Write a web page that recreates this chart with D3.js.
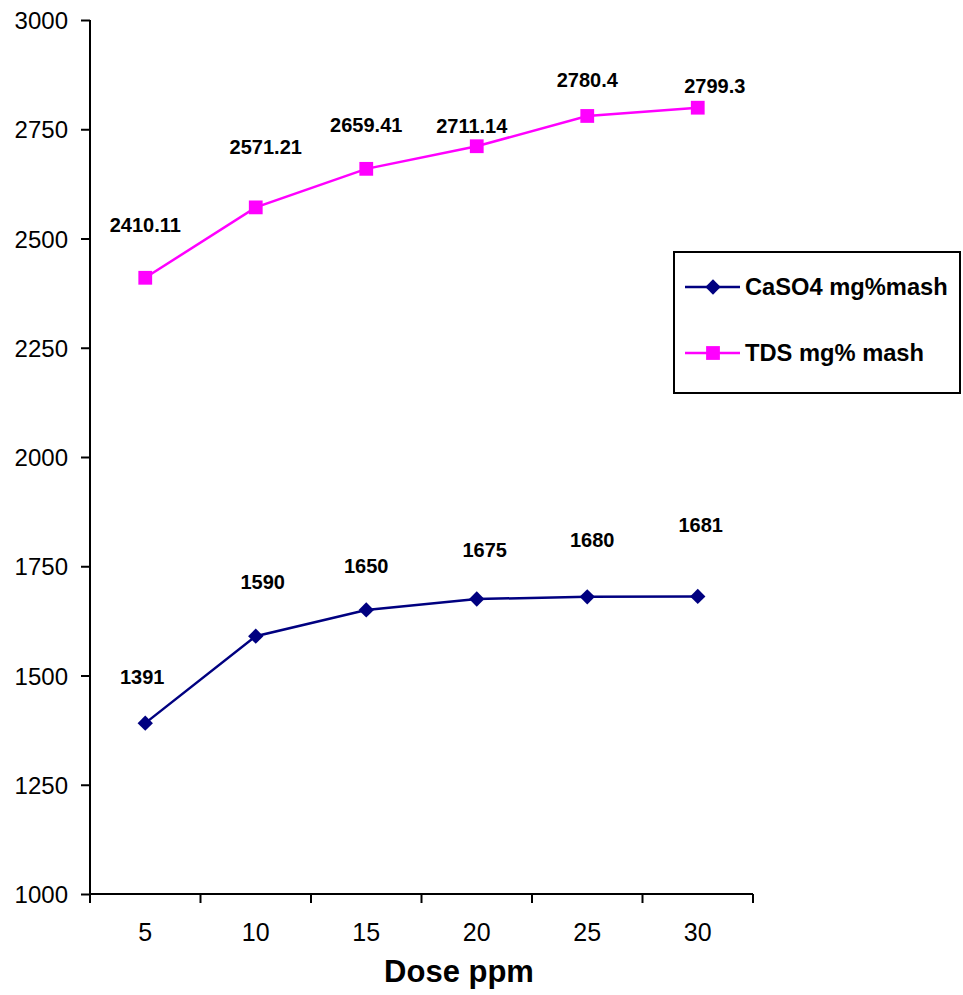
<!DOCTYPE html>
<html>
<head>
<meta charset="utf-8">
<script src="https://cdn.jsdelivr.net/npm/d3@7"></script>
<style>
  body { margin: 0; background: #fff; }
  svg { font-family: "Liberation Sans", Arial, sans-serif; }
</style>
</head>
<body>
<svg id="chart"></svg>
<script>
// chart data
const doses = ["5", "10", "15", "20", "25", "30"];
const caso4 = [1391, 1590, 1650, 1675, 1680, 1681];
const tds = [2410.11, 2571.21, 2659.41, 2711.14, 2780.4, 2799.3];
const caso4Labels = ["1391", "1590", "1650", "1675", "1680", "1681"];
const tdsLabels = ["2410.11", "2571.21", "2659.41", "2711.14", "2780.4", "2799.3"];
const yTicks = [1000, 1250, 1500, 1750, 2000, 2250, 2500, 2750, 3000];
const seriesNames = ["CaSO4 mg%mash", "TDS mg% mash"];

// label nudges (px) as placed in the original
const caso4LabelOff = [[-3, -39], [7, -47], [0, -37], [8, -42], [5, -50], [3, -64]];
const tdsLabelOff = [[0, -46], [10, -53], [0, -37], [-5, -13], [0, -29], [17, -15]];

const width = 963, height = 995;
const margin = { top: 20, left: 90, right: 210, bottom: 101 };

const svg = d3.select("#chart").attr("width", width).attr("height", height);

const x = d3.scaleBand().domain(doses).range([margin.left, 753]);
const y = d3.scaleLinear().domain([1000, 3000]).range([height - margin.bottom, margin.top]);

// axes
const yAxis = svg.append("g")
  .attr("transform", `translate(${margin.left},0)`)
  .call(d3.axisLeft(y).tickValues(yTicks).tickSize(9).tickPadding(13).tickFormat(d3.format("d")));
yAxis.select(".domain").attr("stroke-width", 2).attr("d", `M0,${y(3000)}V${y(1000)}`);
yAxis.selectAll(".tick line").attr("stroke-width", 2);
yAxis.selectAll(".tick text").attr("font-size", 24).attr("fill", "#000").attr("dy", "0.36em");

const xAxis = svg.append("g")
  .attr("transform", `translate(0,${y(1000)})`)
  .call(d3.axisBottom(x).tickSize(0).tickPadding(29));
xAxis.select(".domain").attr("stroke-width", 2).attr("d", `M${x.range()[0]},0H${x.range()[1]}`);
xAxis.selectAll(".tick text").attr("font-size", 25).attr("fill", "#000");
// category boundary ticks
const bounds = doses.map(d => x(d)).concat([x.range()[1]]);
xAxis.selectAll(".bound").data(bounds).join("line")
  .attr("class", "bound")
  .attr("x1", d => d).attr("x2", d => d)
  .attr("y1", 0).attr("y2", 9)
  .attr("stroke", "#000").attr("stroke-width", 2);

svg.append("text")
  .attr("x", 459).attr("y", 982)
  .attr("text-anchor", "middle")
  .attr("font-size", 31).attr("font-weight", "bold")
  .text("Dose ppm");

const cx = d => x(d) + x.bandwidth() / 2;
const line = d3.line().x((d, i) => cx(doses[i])).y(d => y(d));

const diamond = d3.symbol().type(d3.symbolDiamond2).size(150);
const square = d3.symbol().type(d3.symbolSquare).size(190);

function drawSeries(vals, color, sym, labels, offs) {
  const g = svg.append("g");
  g.append("path").datum(vals)
    .attr("d", line)
    .attr("fill", "none").attr("stroke", color).attr("stroke-width", 2.5);
  g.selectAll(".m").data(vals).join("path")
    .attr("class", "m")
    .attr("transform", (d, i) => `translate(${cx(doses[i])},${y(d)})`)
    .attr("d", sym)
    .attr("fill", color);
  g.selectAll(".lbl").data(vals).join("text")
    .attr("class", "lbl")
    .attr("x", (d, i) => cx(doses[i]) + offs[i][0])
    .attr("y", (d, i) => y(d) + offs[i][1])
    .attr("text-anchor", "middle")
    .attr("font-size", 20).attr("font-weight", "bold")
    .text((d, i) => labels[i]);
}

drawSeries(caso4, "#000080", diamond, caso4Labels, caso4LabelOff);
drawSeries(tds, "#FF00FF", square, tdsLabels, tdsLabelOff);

// legend
const legend = svg.append("g");
legend.append("rect")
  .attr("x", 674).attr("y", 252).attr("width", 286).attr("height", 141)
  .attr("fill", "#fff").attr("stroke", "#000").attr("stroke-width", 2);
const legItems = [
  { name: seriesNames[0], color: "#000080", sym: diamond },
  { name: seriesNames[1], color: "#FF00FF", sym: square }
];
legItems.forEach((it, i) => {
  const ly = 287 + i * 66;
  legend.append("line")
    .attr("x1", 685).attr("x2", 740).attr("y1", ly).attr("y2", ly)
    .attr("stroke", it.color).attr("stroke-width", 2.5);
  legend.append("path")
    .attr("transform", `translate(713,${ly})`)
    .attr("d", it.sym).attr("fill", it.color);
  legend.append("text")
    .attr("x", 745).attr("y", ly + 8)
    .attr("font-size", 23.7).attr("font-weight", "bold")
    .text(it.name);
});
</script>
</body>
</html>
